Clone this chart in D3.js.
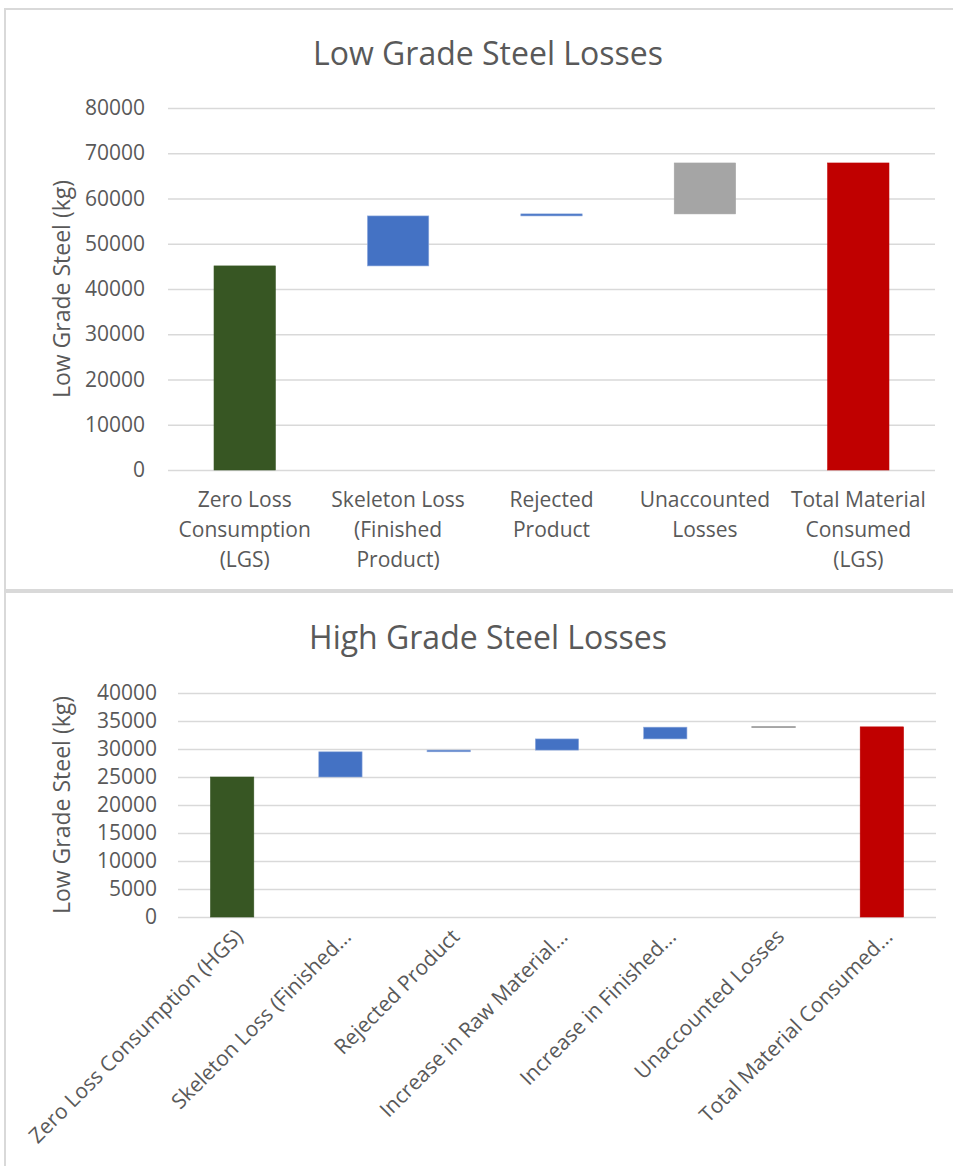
<!DOCTYPE html>
<html>
<head>
<meta charset="utf-8">
<script src="https://cdn.jsdelivr.net/npm/d3@7"></script>
<style>
  html, body { margin: 0; padding: 0; background: #fff; }
  svg { display: block; }
  text { font-family: "Open Sans", "Noto Sans", sans-serif; fill: #595959; }
</style>
</head>
<body>
<svg id="chart" width="953" height="1166"></svg>
<script>
// ---- Low grade steel waterfall ----
const lgsCategories = [
  ["Zero Loss", "Consumption", "(LGS)"],
  ["Skeleton Loss", "(Finished", "Product)"],
  ["Rejected", "Product"],
  ["Unaccounted", "Losses"],
  ["Total Material", "Consumed", "(LGS)"]
];
const lgsValues = [45100, 11050, 450, 11250, 67850];
const lgsKinds = ["start", "loss", "loss", "unaccounted", "total"];
const lgsTicks = [0, 10000, 20000, 30000, 40000, 50000, 60000, 70000, 80000];

// ---- High grade steel waterfall ----
const hgsCategories = [
  "Zero Loss Consumption (HGS)",
  "Skeleton Loss (Finished...",
  "Rejected Product",
  "Increase in Raw Material...",
  "Increase in Finished...",
  "Unaccounted Losses",
  "Total Material Consumed..."
];
const hgsValues = [25000, 4500, 300, 2000, 2100, 50, 33950];
const hgsKinds = ["start", "loss", "loss", "loss", "loss", "unaccounted", "total"];
const hgsTicks = [0, 5000, 10000, 15000, 20000, 25000, 30000, 35000, 40000];

const colors = { start: "#375623", loss: "#4472c4", unaccounted: "#a5a5a5", total: "#c00000" };

const svg = d3.select("#chart");

// Turn values into floating segments: start and total bars rise from zero,
// the rest stack on the running sum.
function waterfall(values, kinds) {
  let run = 0;
  return values.map((v, i) => {
    let y0, y1;
    if (kinds[i] === "start" || kinds[i] === "total") { y0 = 0; y1 = v; run = v; }
    else { y0 = run; y1 = run + v; run = y1; }
    return { i, y0, y1, kind: kinds[i] };
  });
}

function drawPanel(cfg) {
  const g = svg.append("g");
  // panel frame
  g.append("rect")
    .attr("x", cfg.frame[0]).attr("y", cfg.frame[1])
    .attr("width", cfg.frame[2]).attr("height", cfg.frame[3])
    .attr("fill", "#fff").attr("stroke", "#d9d9d9").attr("stroke-width", 2);

  const x = d3.scaleBand()
    .domain(d3.range(cfg.values.length))
    .range([cfg.left, cfg.right])
    .paddingInner(0.6).paddingOuter(0.3);
  const y = d3.scaleLinear().domain(cfg.domain).range([cfg.bottom, cfg.top]);

  // gridlines + tick labels via axis
  const axis = d3.axisLeft(y).tickValues(cfg.ticks).tickSize(-(cfg.right - cfg.left)).tickPadding(cfg.tickPad).tickFormat(d3.format("d"));
  const ag = g.append("g").attr("transform", `translate(${cfg.left},0)`).call(axis);
  ag.select(".domain").remove();
  ag.selectAll(".tick line").attr("stroke", "#d9d9d9").attr("stroke-width", 1.5);
  ag.selectAll(".tick text").attr("font-size", 21).attr("fill", "#595959")
    .style("font-family", '"Open Sans", sans-serif');

  // bars
  const segs = waterfall(cfg.values, cfg.kinds);
  g.append("g").selectAll("rect").data(segs).join("rect")
    .attr("x", d => x(d.i))
    .attr("width", x.bandwidth())
    .attr("y", d => y(d.y1))
    .attr("height", d => y(d.y0) - y(d.y1))
    .attr("fill", d => colors[d.kind])
    .attr("stroke", d => d.kind === "loss" ? "#8faadc" : (d.kind === "unaccounted" && cfg.thinGray ? "#7f7f7f" : colors[d.kind]))
    .attr("stroke-width", d => d.kind === "unaccounted" && cfg.thinGray ? 1 : 0.6);

  // title
  g.append("text").attr("x", cfg.titleX).attr("y", cfg.titleY)
    .attr("text-anchor", "middle").attr("font-size", 32).text(cfg.title);

  // y axis title
  g.append("text")
    .attr("transform", `translate(${cfg.yTitleX},${(cfg.top + cfg.bottom) / 2}) rotate(-90)`)
    .attr("text-anchor", "middle").attr("font-size", 23).text("Low Grade Steel (kg)");

  return { x, y, g };
}

// upper panel
const lgsPanel = drawPanel({
  frame: [5, 9, 960, 581],
  left: 168, right: 935, top: 108, bottom: 470,
  domain: [0, 80000], ticks: lgsTicks, tickPad: 23,
  values: lgsValues, kinds: lgsKinds,
  title: "Low Grade Steel Losses", titleX: 488, titleY: 65,
  yTitleX: 70
});
lgsPanel.g.append("g").selectAll("text").data(lgsCategories).join("text")
  .attr("text-anchor", "middle").attr("font-size", 21)
  .attr("x", (d, i) => lgsPanel.x(i) + lgsPanel.x.bandwidth() / 2)
  .selectAll("tspan").data(d => d).join("tspan")
  .attr("x", function () { return this.parentNode.getAttribute("x"); })
  .attr("y", (d, j) => 507 + j * 30)
  .text(d => d);

// lower panel
const hgsPanel = drawPanel({
  frame: [5, 592, 960, 600],
  left: 178, right: 936, top: 693, bottom: 917,
  domain: [0, 40000], ticks: hgsTicks, tickPad: 21,
  values: hgsValues, kinds: hgsKinds, thinGray: true,
  title: "High Grade Steel Losses", titleX: 488, titleY: 649,
  yTitleX: 70
});
hgsPanel.g.append("g").selectAll("text").data(hgsCategories).join("text")
  .attr("text-anchor", "end").attr("font-size", 21)
  .attr("transform", (d, i) => `translate(${hgsPanel.x(i) + hgsPanel.x.bandwidth() / 2 + 12},${938}) rotate(-45)`)
  .text(d => d);
</script>
</body>
</html>
